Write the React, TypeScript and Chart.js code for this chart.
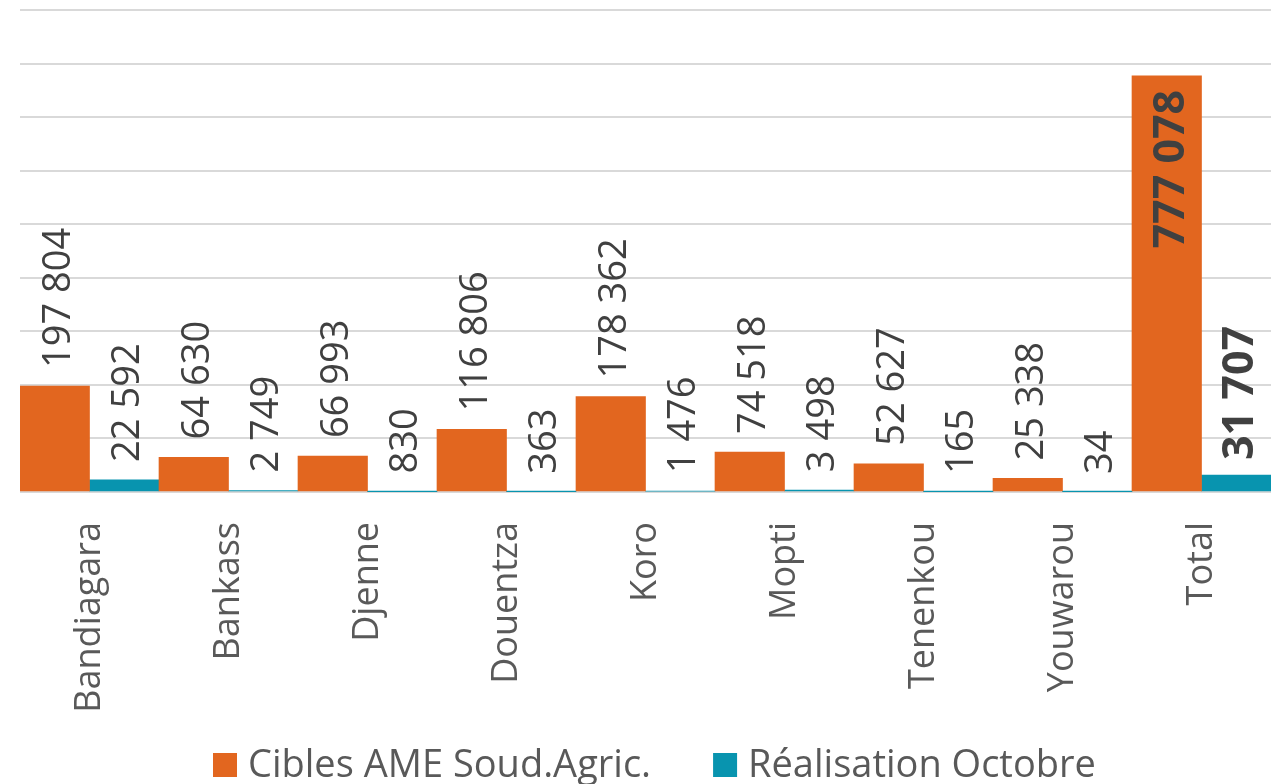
import React, { useEffect, useRef } from "react";
import { Chart, registerables } from "chart.js";

Chart.register(...registerables);

const categories = ["Bandiagara", "Bankass", "Djenne", "Douentza", "Koro", "Mopti", "Tenenkou", "Youwarou", "Total"];
const cibles = [197804, 64630, 66993, 116806, 178362, 74518, 52627, 25338, 777078];
const realisation = [22592, 2749, 830, 363, 1476, 3498, 165, 34, 31707];
const seriesNames = ["Cibles AME Soud.Agric.", "Réalisation Octobre"];
const yTicksMax = 900000;
const yTickStep = 100000;

const ORANGE = "#E2661F";
const TEAL = "#0894AF";
const FONT = "'Open Sans', 'Noto Sans', sans-serif";

function fmt(v: number): string {
  return String(v).replace(/\B(?=(\d{3})+(?!\d))/g, " ");
}

const labelPlugin = {
  id: "rotatedLabels",
  afterDatasetsDraw(chart: any) {
    const ctx = chart.ctx;
    const n = chart.data.labels.length;
    chart.data.datasets.forEach((ds: any, di: number) => {
      const meta = chart.getDatasetMeta(di);
      meta.data.forEach((el: any, i: number) => {
        const isTotal = i === n - 1;
        const size = isTotal ? 43 : 38;
        const weight = isTotal ? "bold" : "normal";
        ctx.save();
        ctx.font = `${weight} ${size}px ${FONT}`;
        ctx.fillStyle = "#404040";
        ctx.textBaseline = "alphabetic";
        ctx.translate(el.x, el.y);
        ctx.rotate(-Math.PI / 2);
        const b = 0.357 * size + 1.5;
        const text = fmt(ds.data[i]);
        if (isTotal && di === 0) {
          ctx.textAlign = "right";
          ctx.fillText(text, -14, b);
        } else {
          ctx.textAlign = "left";
          ctx.fillText(text, isTotal ? 15 : 18, b);
        }
        ctx.restore();
      });
    });
  },
};

const legendPlugin = {
  id: "customLegend",
  afterDraw(chart: any) {
    const ctx = chart.ctx;
    const size = 38;
    const box = 24;
    const cy = 765;
    let x = 213;
    ctx.save();
    ctx.font = `normal ${size}px ${FONT}`;
    ctx.textBaseline = "middle";
    ctx.textAlign = "left";
    chart.data.datasets.forEach((ds: any) => {
      ctx.fillStyle = ds.backgroundColor;
      ctx.fillRect(x, cy - box / 2, box, box);
      x += box + 11;
      ctx.fillStyle = "#595959";
      ctx.fillText(ds.label, x, cy + 1);
      x += ctx.measureText(ds.label).width + 62;
    });
    ctx.restore();
  },
};

export default function App() {
  const ref = useRef<HTMLCanvasElement | null>(null);
  useEffect(() => {
    document.body.style.margin = "0";
    const canvas = ref.current!;
    const chart = new Chart(canvas, {
      type: "bar",
      data: {
        labels: categories,
        datasets: [
          { label: seriesNames[0], data: cibles, backgroundColor: ORANGE, categoryPercentage: 1, barPercentage: 1 },
          { label: seriesNames[1], data: realisation, backgroundColor: TEAL, categoryPercentage: 1, barPercentage: 1 },
        ],
      },
      options: {
        animation: false,
        responsive: false,
        maintainAspectRatio: false,
        layout: { padding: { top: 10, left: 0, right: 0, bottom: 62 } },
        plugins: {
          tooltip: { enabled: false },
          legend: { display: false },
        },
        scales: {
          x: {
            grid: { display: false, drawTicks: false },
            border: { display: false },
            ticks: {
              minRotation: 90,
              maxRotation: 90,
              padding: 30,
              color: "#595959",
              font: { family: FONT, size: 36 },
            },
            afterFit: (s: any) => {
              s.height = 230;
              s.paddingLeft = 0;
              s.paddingRight = 0;
            },
          },
          y: {
            min: 0,
            max: yTicksMax,
            ticks: { display: false, stepSize: yTickStep },
            grid: { color: "#d9d9d9", lineWidth: 2, drawTicks: false },
            border: { display: false },
            afterFit: (s: any) => {
              s.width = 20;
            },
          },
        },
      },
      plugins: [labelPlugin, legendPlugin],
    });
    return () => chart.destroy();
  }, []);
  return <canvas ref={ref} width={1271} height={784} style={{ display: "block" }} />;
}
